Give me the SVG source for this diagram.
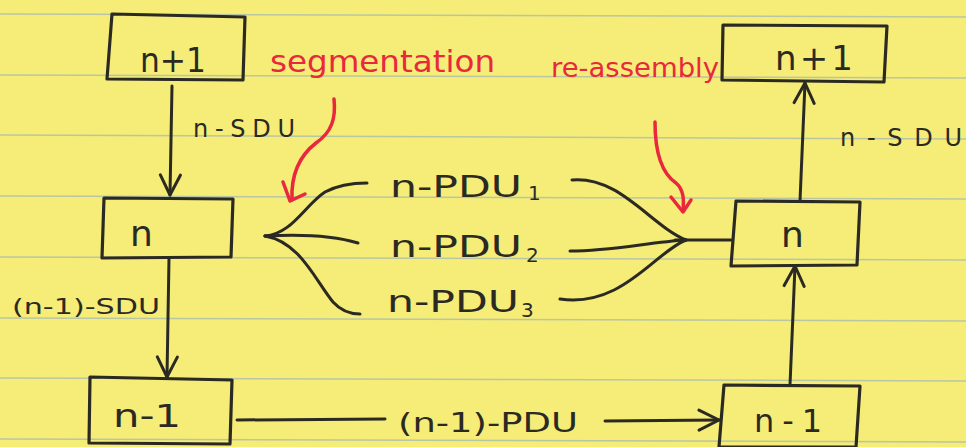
<svg xmlns="http://www.w3.org/2000/svg" width="966" height="447" viewBox="0 0 966 447">
<style>
.bg{fill:#f6ec78}
.rule{stroke:#b9c6a4;stroke-width:1.5;fill:none}
.box{fill:none;stroke:#2b2a22;stroke-width:3.2;stroke-linejoin:round}
.ln{fill:none;stroke:#2b2a22;stroke-width:3;stroke-linecap:round}
.red{fill:none;stroke:#e8283c;stroke-width:3.5;stroke-linecap:round;stroke-linejoin:round}
.t{font-family:"DejaVu Sans","Liberation Sans",sans-serif;fill:#2b2a22}
.tr{font-family:"DejaVu Sans","Liberation Sans",sans-serif;fill:#e8283c}
</style>
<defs>
<marker id="ah2" viewBox="0 0 24 24" refX="22" refY="12" markerWidth="24" markerHeight="24" markerUnits="userSpaceOnUse" orient="auto">
<path d="M2,2 L22,12 L2,22" fill="none" stroke="#2b2a22" stroke-width="3" stroke-linecap="round" stroke-linejoin="round"/>
</marker>
</defs>
<rect class="bg" x="0" y="0" width="966" height="447"/>
<g id="ruling">
<path class="rule" d="M0,14 L966,17 M0,75 L966,78 M0,135 L966,139 M0,196 L966,199 M0,257 L966,260 M0,318 L966,321 M0,378 L966,381 M0,439 L966,442"/>
</g>
<g id="connectors">
<path class="ln" d="M172,86 L170,195" marker-end="url(#ah2)"/>
<path class="ln" d="M169,258 L167,377" marker-end="url(#ah2)"/>
<path class="ln" d="M237,420 L385,419"/>
<path class="ln" d="M605,421 L719,420" marker-end="url(#ah2)"/>
<path class="ln" d="M790,385 L795,266" marker-end="url(#ah2)"/>
<path class="ln" d="M800,201 L805,83" marker-end="url(#ah2)"/>
<path class="ln" d="M265,236 C292,234 305,205 325,192 C340,184 355,183 367,183"/>
<path class="ln" d="M265,236 C300,234 335,236 358,243"/>
<path class="ln" d="M265,236 C300,242 315,280 333,302 C342,312 352,314 360,314"/>
<path class="ln" d="M572,180 C620,176 650,225 686,240"/>
<path class="ln" d="M570,251 C612,251 650,242 686,240"/>
<path class="ln" d="M560,299 C622,308 655,252 686,240"/>
<path class="ln" d="M675,240 L731,240"/>
<path class="red" d="M334,99 C336,118 332,132 316,143 C298,157 291,178 292,200"/>
<path class="red" d="M283,182 L290,201 L305,194"/>
<path class="red" d="M655,122 C655,150 660,172 676,183 C684,190 684,200 683,211"/>
<path class="red" d="M671,197 L683,212 L691,200"/>
</g>
<g id="n1L">
<path class="box" d="M112,14 L245,17 L243,80 L107,79 Z"/>
<text class="t" x="140" y="72" font-size="34" textLength="66" lengthAdjust="spacingAndGlyphs">n+1</text>
</g>
<g id="nL">
<path class="box" d="M104,198 L233,199 L231,257 L102,258 Z"/>
<text class="t" x="130" y="246" font-size="36">n</text>
</g>
<g id="n0L">
<path class="box" d="M90,377 L232,380 L230,444 L89,443 Z"/>
<text class="t" x="113" y="427" font-size="32" textLength="68" lengthAdjust="spacingAndGlyphs">n-1</text>
</g>
<g id="n1R">
<path class="box" d="M723,25 L887,26 L884,82 L722,80 Z"/>
<text class="t" x="775" y="70" font-size="34" textLength="78" lengthAdjust="spacing">n+1</text>
</g>
<g id="nR">
<path class="box" d="M736,201 L860,202 L857,265 L731,266 Z"/>
<text class="t" x="781" y="247" font-size="36">n</text>
</g>
<g id="n0R">
<path class="box" d="M724,385 L860,386 L856,447 L719,447 Z"/>
<text class="t" x="754" y="432" font-size="32" textLength="68" lengthAdjust="spacing">n-1</text>
</g>
<g id="labels">
<text class="t" x="193" y="137" font-size="24" textLength="102" lengthAdjust="spacing">n-SDU</text>
<text class="t" x="840" y="146" font-size="24" textLength="122" lengthAdjust="spacing">n-SDU</text>
<text class="t" x="12" y="314" font-size="22" textLength="148" lengthAdjust="spacingAndGlyphs">(n-1)-SDU</text>
<text class="t" x="398" y="432" font-size="26" textLength="180" lengthAdjust="spacingAndGlyphs">(n-1)-PDU</text>
<text class="t" x="390" y="197" font-size="30"><tspan textLength="132" lengthAdjust="spacingAndGlyphs">n-PDU</tspan><tspan dx="6" font-size="20" dy="3">1</tspan></text>
<text class="t" x="390" y="257" font-size="30"><tspan textLength="132" lengthAdjust="spacingAndGlyphs">n-PDU</tspan><tspan dx="4" font-size="20" dy="5">2</tspan></text>
<text class="t" x="387" y="312" font-size="30"><tspan textLength="132" lengthAdjust="spacingAndGlyphs">n-PDU</tspan><tspan dx="2" font-size="20" dy="5">3</tspan></text>
<text class="tr" x="270" y="72" font-size="30" textLength="225" lengthAdjust="spacingAndGlyphs">segmentation</text>
<text class="tr" x="551" y="77" font-size="26" textLength="168" lengthAdjust="spacingAndGlyphs">re-assembly</text>
</g>
</svg>
